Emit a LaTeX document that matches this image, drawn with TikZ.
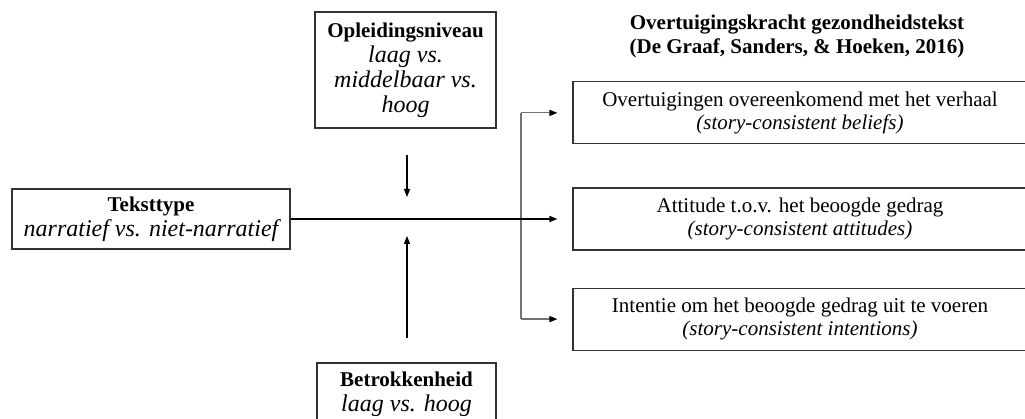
\documentclass[tikz,border=0pt]{standalone}
\usepackage{fontspec}
\setmainfont{Liberation Serif}
\usepackage{tikz}
\usetikzlibrary{positioning,arrows.meta}
\pgfdeclarelayer{nodelayer}
\pgfdeclarelayer{edgelayer}
\pgfsetlayers{main,nodelayer,edgelayer}
\tikzstyle{var_box}=[rectangle, draw=black!80, line width=1.1pt, inner sep=0pt, align=center, font=\fontsize{21}{25}\selectfont]
\tikzstyle{result_box}=[var_box, minimum width=454pt, minimum height=62pt, font=\fontsize{21}{23.5}\selectfont]
\tikzstyle{kop}=[align=center, font=\fontsize{21}{23.5}\selectfont\bfseries]
\tikzstyle{effChan}=[-{Triangle[length=8pt, width=6pt]}, line width=1.2pt, black]
\tikzstyle{splitChan}=[-{Triangle[length=8pt, width=6pt, color=black]}, line width=1.2pt, black!55]
\newcommand{\niveau}[1]{{\fontsize{24}{25}\selectfont\itshape #1}}

\begin{document}
\begin{tikzpicture}[x=1pt, y=-1pt]
        \useasboundingbox (0, 0) rectangle (1025, 419);
        \begin{pgfonlayer}{nodelayer}
            \node [style=var_box, minimum width=278pt, minimum height=60pt] (Teks) at (151, 219) {\textbf{Teksttype}\\\niveau{narratief vs. niet-narratief}};
            \node [style=var_box, minimum width=181pt, minimum height=116pt] (Opl) at (405.5, 70) {\textbf{Opleidingsniveau}\\\niveau{laag vs.}\\\niveau{middelbaar vs.}\\\niveau{hoog}};
            \node [style=var_box, minimum width=179pt, minimum height=62pt] (Betr) at (406.5, 394) {\textbf{Betrokkenheid}\\\niveau{laag vs. hoog}};

            \node [style=result_box] (Ov2) at (800, 219) {Attitude t.o.v. het beoogde gedrag\\\textit{(story-consistent attitudes)}};
            \node [style=result_box, above=43pt of Ov2] (Ov1) {Overtuigingen overeenkomend met het verhaal\\\textit{(story-consistent beliefs)}};
            \node [style=result_box, below=37pt of Ov2] (Ov3) {Intentie om het beoogde gedrag uit te voeren\\\textit{(story-consistent intentions)}};
            \node [style=kop] (Kop) at (797, 36.5) {Overtuigingskracht gezondheidstekst\\(De Graaf, Sanders, \& Hoeken, 2016)};
        \end{pgfonlayer}
        \begin{pgfonlayer}{edgelayer}
                %moderators
                \coordinate (OplStart) at (407, 155);
                \coordinate (OplEnd) at (407, 197);
                \coordinate (BetrStart) at (407, 338);
                \coordinate (BetrEnd) at (407, 236);
                \draw [style={effChan}] (OplStart) to (OplEnd);
                \draw [style={effChan}] (BetrStart) to (BetrEnd);

                %main effect and split
                \coordinate (Split) at (521, 219);
                \draw [style={splitChan}, -] (Split |- Ov1.west) to (Split |- Ov3.west);
                \draw [style={splitChan}, shorten >=15pt] (Split |- Ov1.west) to (Ov1.west);
                \draw [style={splitChan}, shorten >=15pt] (Split |- Ov3.west) to (Ov3.west);
                \draw [style={effChan}, shorten >=15pt] (Teks.east) to (Ov2.west);
        \end{pgfonlayer}
\end{tikzpicture}
\end{document}
